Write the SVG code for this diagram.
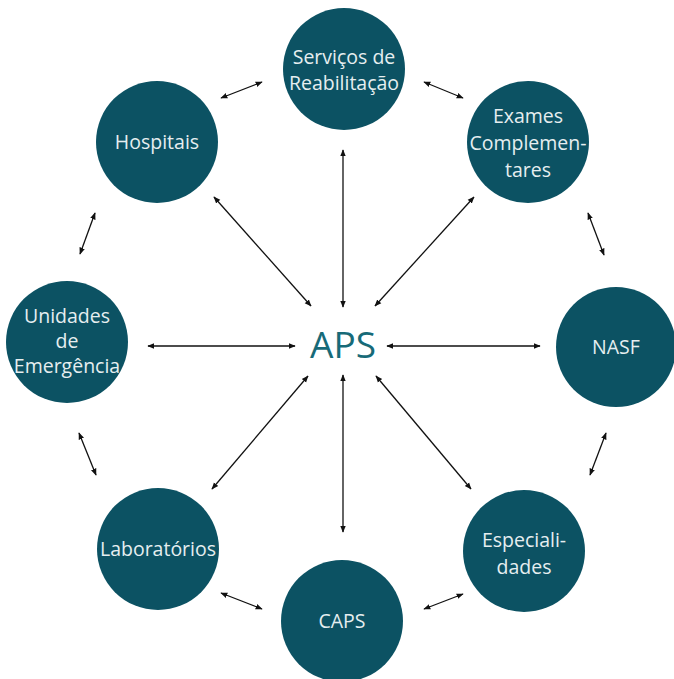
<svg xmlns="http://www.w3.org/2000/svg" width="674" height="679" viewBox="0 0 674 679">
  <defs>
    <marker id="ah" viewBox="0 0 10 10" refX="9" refY="5" markerWidth="7" markerHeight="7" orient="auto-start-reverse" markerUnits="userSpaceOnUse">
      <path d="M0,1 L10,5 L0,9 Z" fill="#111"/>
    </marker>
    <style>
      .node circle { fill: #0c5263; }
      .node text { fill: #e6eef0; font-family: "Open Sans", "Noto Sans", sans-serif; font-size: 19.5px; text-anchor: middle; }
      .conn line { stroke: #111; stroke-width: 1.3; marker-start: url(#ah); marker-end: url(#ah); }
      .hub { fill: #176a78; font-family: "Open Sans", "Noto Sans", sans-serif; font-size: 37px; text-anchor: middle; }
    </style>
  </defs>

  <!-- connectors -->
  <g id="connectors" class="conn">
    <!-- spokes to the hub -->
    <line x1="343" y1="150" x2="343" y2="307"/>
    <line x1="343" y1="375" x2="343" y2="532"/>
    <line x1="148" y1="346" x2="295" y2="346"/>
    <line x1="387" y1="346" x2="540" y2="346"/>
    <line x1="214" y1="197" x2="311" y2="306"/>
    <line x1="474" y1="197" x2="375" y2="306"/>
    <line x1="212" y1="489" x2="308" y2="376"/>
    <line x1="471" y1="489" x2="376" y2="376"/>
    <!-- outer ring -->
    <line x1="221" y1="98" x2="262" y2="82"/>
    <line x1="424" y1="82" x2="463" y2="98"/>
    <line x1="95" y1="213" x2="80" y2="254"/>
    <line x1="588" y1="213" x2="604" y2="255"/>
    <line x1="79" y1="433" x2="96" y2="475"/>
    <line x1="606" y1="433" x2="590" y2="475"/>
    <line x1="221" y1="593" x2="262" y2="609"/>
    <line x1="463" y1="594" x2="424" y2="609"/>
  </g>

  <text id="aps" class="hub" x="343" y="358">APS</text>

  <g id="servicos" class="node">
    <circle cx="344" cy="69" r="61"/>
    <text x="344" y="64">Serviços de</text>
    <text x="344" y="90">Reabilitação</text>
  </g>
  <g id="hospitais" class="node">
    <circle cx="157" cy="142" r="61"/>
    <text x="157" y="149">Hospitais</text>
  </g>
  <g id="exames" class="node">
    <circle cx="528" cy="142" r="61"/>
    <text x="528" y="123">Exames</text>
    <text x="528" y="150">Complemen-</text>
    <text x="528" y="177">tares</text>
  </g>
  <g id="unidades" class="node">
    <circle cx="67" cy="342" r="61"/>
    <text x="67" y="323">Unidades</text>
    <text x="67" y="348">de</text>
    <text x="67" y="373">Emergência</text>
  </g>
  <g id="nasf" class="node">
    <circle cx="616" cy="347" r="60"/>
    <text x="616" y="354">NASF</text>
  </g>
  <g id="laboratorios" class="node">
    <circle cx="158" cy="549" r="61"/>
    <text x="158" y="556">Laboratórios</text>
  </g>
  <g id="especialidades" class="node">
    <circle cx="524" cy="551" r="61"/>
    <text x="524" y="547">Especiali-</text>
    <text x="524" y="574">dades</text>
  </g>
  <g id="caps" class="node">
    <circle cx="342" cy="621" r="61"/>
    <text x="342" y="628">CAPS</text>
  </g>
</svg>
